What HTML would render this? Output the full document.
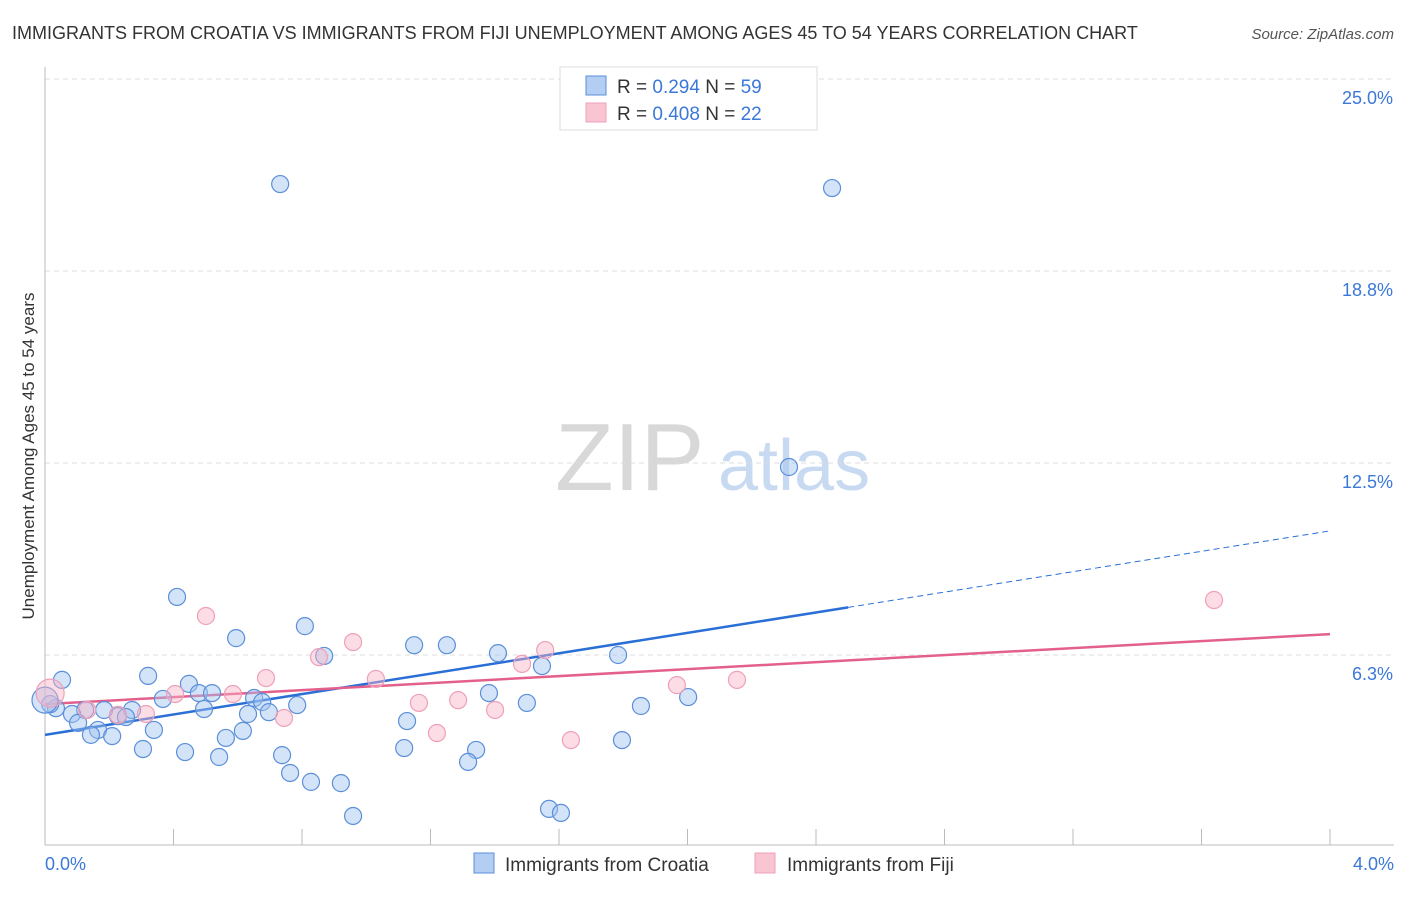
<!DOCTYPE html>
<html><head><meta charset="utf-8"><style>
body{margin:0;background:#fff;font-family:"Liberation Sans",sans-serif}
svg text{font-family:"Liberation Sans",sans-serif}
</style></head><body>
<svg id="chart" width="1406" height="892" xmlns="http://www.w3.org/2000/svg">
<text x="12" y="39" font-size="18" fill="#333">IMMIGRANTS FROM CROATIA VS IMMIGRANTS FROM FIJI UNEMPLOYMENT AMONG AGES 45 TO 54 YEARS CORRELATION CHART</text>
<text x="1394" y="39" font-size="15" fill="#555" text-anchor="end" font-style="italic">Source: ZipAtlas.com</text>
<g>
<text x="555" y="490" font-size="96" fill="#d8d8d8" font-family="Liberation Serif, serif">ZIP</text>
<text x="718" y="490" font-size="72" fill="#c8daf2">atlas</text>
</g>
<g id="grid"></g>
<g id="axes"></g>
<g id="trend"></g>
<g id="points"></g>
<text transform="translate(34,456) rotate(-90)" font-size="17" fill="#333" text-anchor="middle">Unemployment Among Ages 45 to 54 years</text>
<text x="45" y="870" font-size="18" fill="#3b78d8">0.0%</text>
<text x="1394" y="870" font-size="18" fill="#3b78d8" text-anchor="end">4.0%</text>
<g>
<rect x="560" y="67" width="257" height="63" fill="#fff" stroke="#ddd"/>
<rect x="586" y="76" width="20" height="19" fill="#b4cdf3" stroke="#5b8fd9"/>
<rect x="586" y="103" width="20" height="19" fill="#f9c5d3" stroke="#eea0b8"/>
<text x="617" y="93" font-size="19" fill="#333">R = <tspan fill="#3b78d8">0.294</tspan>   N = <tspan fill="#3b78d8">59</tspan></text>
<text x="617" y="120" font-size="19" fill="#333">R = <tspan fill="#3b78d8">0.408</tspan>   N = <tspan fill="#3b78d8">22</tspan></text>
</g>
<g>
<rect x="474" y="853" width="20" height="20" fill="#b4cdf3" stroke="#5b8fd9"/>
<text x="505" y="871" font-size="19" fill="#333">Immigrants from Croatia</text>
<rect x="755" y="853" width="20" height="20" fill="#f9c5d3" stroke="#eea0b8"/>
<text x="787" y="871" font-size="19" fill="#333">Immigrants from Fiji</text>
</g>
</svg>
<script>
const yTicks=[6.25,12.5,18.75,25];
const yTickLabels=["6.3%","12.5%","18.8%","25.0%"];
const xTicks=[0,0.4,0.8,1.2,1.6,2.0,2.4,2.8,3.2,3.6,4.0];
const croatiaX=[0.732,2.450,2.316,0.411,0.809,0.595,1.149,1.251,0.869,1.410,1.784,1.547,0.321,0.053,0.448,0.479,0.520,0.367,0.651,0.676,1.382,2.002,0.785,0.034,0.016,0.125,0.184,0.271,0.495,1.855,1.500,0.697,0.632,0.084,0.227,0.252,0.103,1.127,0.339,0.616,0.165,0.143,0.209,0.563,1.796,0.305,1.118,0.436,1.342,0.542,0.738,1.317,0.763,0.828,0.921,1.569,1.606,0.959,0.0];
const croatiaY=[21.58,21.45,12.37,8.14,7.19,6.80,6.57,6.57,6.22,6.31,6.25,5.89,5.57,5.44,5.31,5.01,5.01,4.82,4.85,4.72,5.01,4.88,4.62,4.52,4.65,4.46,4.46,4.46,4.49,4.59,4.69,4.39,4.33,4.33,4.26,4.23,4.04,4.10,3.81,3.78,3.81,3.65,3.61,3.55,3.48,3.19,3.22,3.09,3.16,2.93,2.99,2.77,2.41,2.12,2.08,1.24,1.11,1.01,4.78];
const croatiaBig=[58,13];
const fijiX=[0.501,0.959,1.557,0.688,1.030,0.853,1.485,1.967,2.154,3.639,0.405,0.585,1.164,1.286,1.401,0.744,0.227,0.314,0.131,1.220,1.637,0.016];
const fijiY=[7.52,6.67,6.41,5.50,5.47,6.18,5.96,5.27,5.44,8.04,4.98,4.98,4.69,4.78,4.46,4.20,4.30,4.33,4.46,3.71,3.48,5.01];
const fijiBig=[21];
const croatiaTrend=[0,3.65,4.0,10.29,2.5];
const fijiTrend=[0,4.65,4.0,6.93];
const NS="http://www.w3.org/2000/svg";
const xS=v=>45+v/4*1285;
const yS=v=>847-v*30.72;
function mk(tag,attrs,parent){const e=document.createElementNS(NS,tag);for(const k in attrs)e.setAttribute(k,attrs[k]);document.getElementById(parent).appendChild(e);return e;}
yTicks.forEach((t,i)=>{
 const l=mk('line',{x1:45,x2:1394,y1:yS(t),y2:yS(t),stroke:'#ddd','stroke-dasharray':'5,4'},'grid');
 
 
 const tx=mk('text',{x:1393,y:yS(t)+25,'font-size':18,fill:'#3b78d8','text-anchor':'end'},'grid');
 tx.textContent=yTickLabels[i];
 
 
});
const ya=mk('line',{x1:45,x2:45,y1:67,y2:845,stroke:'#bbb'},'axes');


const xa=mk('line',{x1:45,x2:1394,y1:845,y2:845,stroke:'#bbb'},'axes');


xTicks.forEach(t=>{
 const l=mk('line',{x1:xS(t),x2:xS(t),y1:829,y2:845,stroke:'#bbb'},'axes');
 
 
});
const cEndX=croatiaTrend[4];
const cEndY=croatiaTrend[1]+(croatiaTrend[3]-croatiaTrend[1])*(cEndX-croatiaTrend[0])/(croatiaTrend[2]-croatiaTrend[0]);
const t1=mk('line',{x1:xS(croatiaTrend[0]),y1:yS(croatiaTrend[1]),x2:xS(cEndX),y2:yS(cEndY),stroke:'#2a6fd6','stroke-width':2.5},'trend');


const t2=mk('line',{x1:xS(cEndX),y1:yS(cEndY),x2:xS(croatiaTrend[2]),y2:yS(croatiaTrend[3]),stroke:'#2a6fd6','stroke-width':1,'stroke-dasharray':'6,4'},'trend');


const t3=mk('line',{x1:xS(fijiTrend[0]),y1:yS(fijiTrend[1]),x2:xS(fijiTrend[2]),y2:yS(fijiTrend[3]),stroke:'#e4608c','stroke-width':2.5},'trend');


croatiaX.forEach((x,i)=>{
 const r=croatiaBig[0]===i?croatiaBig[1]:8.5;
 const c=mk('circle',{cx:xS(x),cy:yS(croatiaY[i]),r:r,fill:'rgba(160,196,240,0.45)',stroke:'#5b8fd9','stroke-width':1.2},'points');
 
 
});
fijiX.forEach((x,i)=>{
 const r=fijiBig.includes(i)?14:8.5;
 const c=mk('circle',{cx:xS(x),cy:yS(fijiY[i]),r:r,fill:'rgba(248,180,200,0.45)',stroke:'#eea0b8','stroke-width':1.2},'points');
 
 
});
</script>
</body></html>
